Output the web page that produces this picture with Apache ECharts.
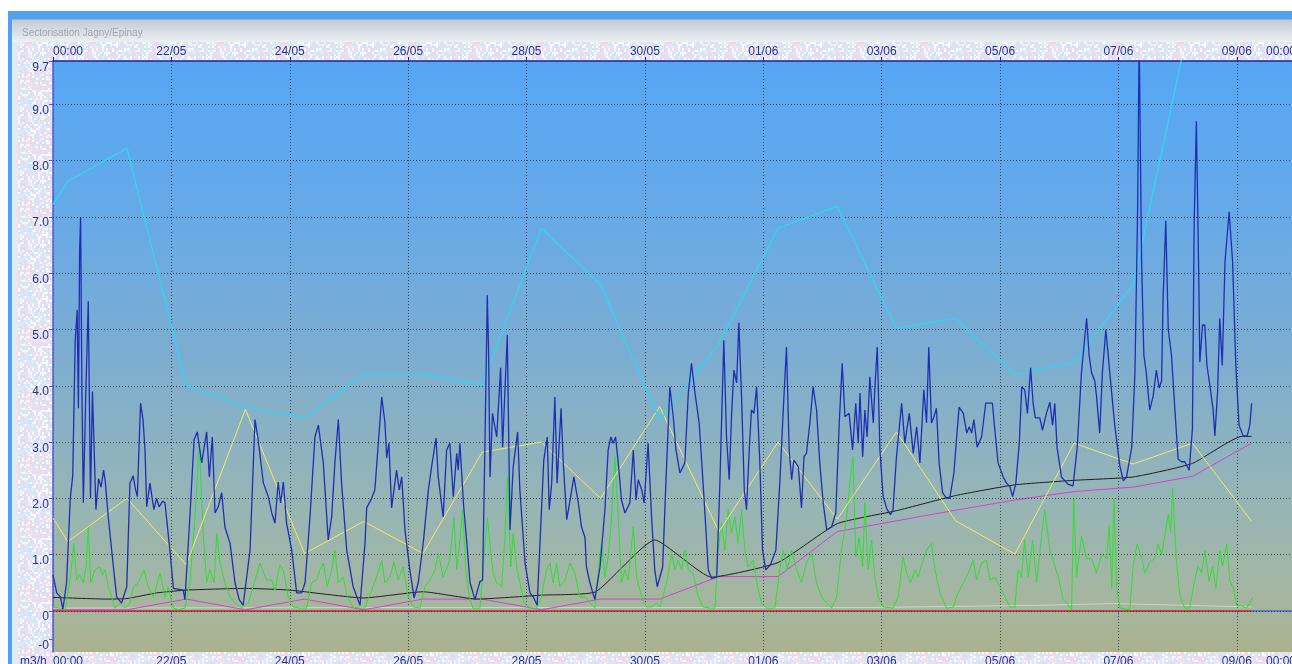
<!DOCTYPE html>
<html>
<head>
<meta charset="utf-8">
<title>Sectorisation Jagny/Epinay</title>
<script src="https://cdn.jsdelivr.net/npm/echarts@6/dist/echarts.min.js"></script>
<style>
html,body{margin:0;padding:0;background:#fff;}
#chart{width:1292px;height:664px;}
</style>
</head>
<body>
<div id="chart"></div>
<script>
// x = heures depuis le 20/05 00:00
var xTickValues = [0, 48, 96, 144, 192, 240, 288, 336, 384, 432, 480, 504];
var xTickLabels = ['00:00', '22/05', '24/05', '26/05', '28/05', '30/05', '01/06', '03/06', '05/06', '07/06', '09/06', '00:00'];
var yTickValues = [-0.5, 0, 1, 2, 3, 4, 5, 6, 7, 8, 9, 9.77];
var yTickLabels = ['-0', '0', '1.0', '2.0', '3.0', '4.0', '5.0', '6.0', '7.0', '8.0', '9.0', '9.7'];
var gridLevels = [0, 1, 2, 3, 4, 5, 6, 7, 8, 9];

// debit (bleu fonce)
var blueFlow = [
	[0,0.64],[1.5,0.32],[3,0.25],[4,0.03],[5.5,0.5],[7,2.0],[8,2.4],[9,4.8],[9.8,5.35],[10.3,3.6],
	[10.8,6.4],[11.2,7.0],[11.7,4.0],[12.3,1.92],[13.2,3.7],[14.3,5.5],[15.2,2.0],[16,3.9],[17.4,1.8],[18.5,2.35],
	[19.5,2.2],[20.5,2.5],[21.2,2.3],[22.4,1.67],[24.5,0.78],[25.8,0.25],[27.8,0.14],[29.9,0.43],[31.2,2.27],[32.5,2.4],
	[33.5,2.15],[34.2,2.03],[35.5,3.69],[36.5,3.4],[37.3,2.86],[38,1.85],[39.3,2.27],[40.9,1.8],[42,2.0],[43,1.85],
	[44.5,1.95],[45.4,1.92],[47.4,1.08],[48.8,0.4],[52.8,0.37],[53.5,0.2],[55.5,1.67],[57.2,3.04],[58.5,3.18],[60.3,2.63],
	[62.3,3.18],[63.4,2.38],[64.6,3.09],[65.7,1.74],[67,1.85],[68.4,2.1],[69.7,1.49],[71.8,1.2],[73.8,0.5],[75.5,0.2],
	[77.1,0.1],[79.9,1.08],[81.9,3.4],[83.2,3.04],[85.3,2.27],[87.3,2.03],[88.7,1.74],[90,1.56],[91.3,2.29],[92.3,1.92],
	[93.4,2.29],[94.7,1.56],[96.8,1.08],[98.8,0.32],[100.8,0.32],[102.2,0.5],[104.2,1.67],[106.2,3.09],[107.6,3.3],[109.6,2.63],
	[111.6,1.26],[113,1.67],[114.3,2.63],[115.7,3.4],[117,2.27],[119.1,1.08],[121.7,0.43],[124.5,0.1],[126.5,1.2],[127.2,1.83],
	[129.2,2.0],[130.5,2.15],[131.9,2.98],[133.3,3.8],[134.6,3.34],[135.3,2.72],[136.2,2.98],[137.3,1.83],[139.3,2.5],[140.4,2.15],
	[141.4,2.38],[142.7,1.44],[144.7,0.73],[146.4,0.23],[148.1,0.5],[150.1,1.2],[152.2,2.15],[153.5,2.56],[155.3,3.07],[156.2,2.38],
	[158.2,1.67],[159.6,2.86],[160.9,2.98],[162.3,2.03],[163.7,2.8],[164.3,2.5],[165,2.98],[166.4,1.92],[167.7,1.26],[169.1,0.5],
	[171.1,0.2],[173.1,0.52],[174.2,0.55],[175.1,2.86],[176.1,5.61],[176.6,4.64],[177.2,2.38],[178.2,3.51],[179.9,3.09],[181.5,4.32],
	[182.3,2.91],[183.2,3.87],[184.2,4.9],[185.3,1.44],[186.6,2.56],[188.4,3.18],[189.3,2.15],[191.4,0.85],[193.4,0.32],[194.7,0.25],
	[196.3,0.1],[197.7,1.44],[199,2.68],[200.4,3.09],[201.2,1.8],[202.2,2.27],[203.5,3.8],[204.4,2.27],[206,3.6],[206.9,2.63],
	[208.3,1.62],[209.9,2.03],[211.2,2.38],[213,1.92],[214.3,1.49],[215.7,1.31],[216.3,0.78],[217.7,0.5],[219.7,0.2],[221.8,0.78],
	[223.8,1.8],[225.1,2.86],[226.2,3.09],[227.1,2.98],[228.1,3.09],[229.2,2.63],[230.5,1.97],[231.9,1.74],[233.9,1.92],[235.3,2.86],
	[236.4,1.97],[237.3,2.33],[238.7,2.15],[239.7,1.92],[241.3,2.98],[242.7,1.67],[244,0.73],[245,0.43],[247.2,0.78],[248.5,2.27],
	[250.1,3.98],[251.5,3.45],[252.6,2.86],[254.2,2.45],[256.2,2.63],[257.6,3.87],[258.9,4.4],[260.3,3.87],[262,3.34],[263.6,2.27],
	[265.7,0.73],[267,0.58],[269.1,0.6],[270.4,2.27],[272,4.81],[273.1,3.09],[274.2,2.33],[275.1,3.45],[276.1,4.28],[277.2,4.05],
	[278.1,5.12],[279.2,3.8],[280.3,2.15],[281.2,1.8],[282.3,2.86],[283.2,3.57],[284.2,3.51],[285.3,3.98],[286.6,2.63],[287.7,1.08],
	[289,0.73],[290.9,0.82],[293.1,1.08],[294.7,2.27],[296.1,3.57],[297.4,4.69],[298.5,2.86],[299.5,2.33],[300.4,2.68],[302.2,2.56],
	[303.5,1.83],[304.5,2.74],[305.5,2.8],[306.9,3.34],[308.2,3.98],[309.6,3.57],[310.9,2.63],[312.3,1.92],[313.7,1.44],[315.7,1.49],
	[317.4,1.74],[318.8,3.34],[320,4.4],[321.1,3.45],[322.8,3.51],[324.2,2.86],[325.5,3.69],[326.5,2.98],[327.2,3.87],[328.3,2.74],
	[329.2,3.57],[330.1,3.09],[331.2,4.16],[332.6,3.34],[333.2,3.93],[334.2,4.69],[335.3,2.86],[336.6,2.03],[338.2,1.8],[339.6,1.71],
	[340.6,1.8],[342,2.74],[344.1,3.69],[345.4,2.98],[347.2,3.51],[348.8,2.8],[350.2,3.27],[351.5,2.63],[353.1,3.93],[354.2,3.34],
	[355.1,4.69],[356.2,3.34],[357.2,3.45],[358.2,3.6],[359.3,2.63],[360.7,2.1],[362.3,2.0],[363.6,2.0],[365.3,2.45],[366.4,3.09],
	[367.4,3.62],[369.1,3.51],[370.5,3.16],[371.5,3.27],[372.5,3.16],[373.4,3.4],[374.7,2.91],[376.5,3.09],[378.2,3.69],[379.9,3.69],
	[380.9,3.69],[381.9,3.21],[383.2,2.63],[385.3,2.38],[386.6,2.27],[388,2.21],[389.1,2.03],[390.4,2.27],[391.8,2.98],[392.8,3.98],
	[394,3.93],[395.1,3.51],[396.4,4.32],[397.4,3.69],[398.3,3.43],[400.1,3.43],[401.2,3.21],[402.8,3.51],[404.2,3.71],[405.3,3.3],
	[406.2,3.69],[407.1,2.91],[408.9,2.38],[410.3,2.31],[411.6,2.25],[413.6,2.22],[415.3,2.91],[417,4.23],[419.1,5.2],[420.1,4.55],
	[421.1,4.23],[422.4,4.09],[423.1,3.82],[424.4,3.16],[425.5,4.23],[426.9,5.0],[428.5,4.23],[430.5,3.3],[432.6,2.57],[434,2.31],
	[435.3,2.38],[437.4,2.91],[438.7,4.23],[439.8,7.18],[440.4,10.2],[440.9,10.2],[441.4,6.2],[442.3,4.55],[443.3,4.23],[444.7,3.57],
	[446.1,3.82],[447.4,4.28],[448.5,3.96],[449.5,4.09],[450.1,5.54],[451.2,6.93],[452.2,5.0],[453.5,4.55],[454.9,3.57],[456.2,2.7],
	[457.6,2.65],[458.9,2.65],[460.7,2.5],[462,3.23],[462.7,6.86],[463.6,8.7],[464.6,5.86],[465,4.42],[466.1,5.08],[467,5.08],
	[467.9,4.36],[469,4.03],[470.4,3.57],[471.1,3.11],[472.2,3.89],[473.1,5.2],[474.1,4.36],[475.2,6.2],[476.9,7.09],[478.3,6.2],
	[479.6,4.36],[480.9,3.3],[482.6,3.11],[484.2,3.11],[485.3,3.3],[486,3.69]
];

// vert
var greenFlow = [
	[0,0.07],[2.8,0.05],[4.9,0.02],[6.9,0.55],[8.5,1.2],[9.6,0.55],[10.9,0.64],[12.3,0.5],[13.4,0.78],[14.3,1.49],
	[15.3,0.5],[17,0.73],[19,0.78],[20.1,0.64],[21.1,0.73],[22.4,0.43],[23.8,0.25],[25.1,0.05],[27.2,0.14],[29.2,0.05],
	[31.2,0.14],[32.6,0.43],[34.6,0.5],[36.9,0.73],[38.6,0.43],[40.7,0.25],[43.4,0.67],[45.4,0.25],[46.7,0.43],[48.8,0.05],
	[50.8,0.02],[53.5,0.05],[55.5,0.5],[57.6,1.67],[59.3,2.98],[60.9,1.38],[62.3,0.5],[63.6,0.73],[65.3,0.5],[66.4,1.38],
	[67.7,0.85],[69.7,0.5],[71.8,0.25],[73.8,0.14],[76.5,0.05],[79.2,0.14],[81.9,0.55],[83.9,0.85],[86.6,0.55],[88.7,0.55],
	[90,0.37],[92,0.82],[93.4,0.73],[95.4,0.25],[97.4,0.07],[100.1,0.05],[102.8,0.05],[104.9,0.5],[106.9,0.55],[108.2,0.73],
	[109.6,0.85],[111.2,0.43],[113,0.73],[114.3,1.08],[115.7,0.5],[117.7,0.6],[119.3,0.25],[121.7,0.07],[124.5,0.05],[126.5,0.05],
	[129.2,0.37],[131.2,0.6],[133.3,0.9],[134.6,0.5],[136.6,0.6],[138.2,0.87],[140,0.55],[142,0.78],[144,0.25],[146.1,0.07],
	[148.8,0.05],[150.8,0.43],[152.8,0.55],[154.9,0.73],[156.2,1.03],[158.2,0.6],[160.9,0.9],[162.6,1.67],[163.7,0.73],[165,1.26],
	[166.1,1.8],[167.4,0.73],[168.8,0.25],[170.2,0.05],[173.1,0.05],[174.4,0.78],[176.1,1.67],[177.4,1.08],[178.5,0.67],[179.9,0.5],
	[181.9,0.43],[183.2,1.26],[184.3,2.38],[185.6,0.78],[186.6,1.38],[188,0.78],[189.3,0.5],[191,0.14],[193.4,0.05],[196.1,0.05],
	[198.1,0.25],[200.1,0.73],[201.5,0.85],[202.8,0.5],[204.2,0.85],[205.5,0.43],[207.6,0.55],[209.6,0.85],[211.6,0.67],[213.6,0.25],
	[215.7,0.25],[217.7,0.14],[219.7,0.05],[221.1,0.73],[222.4,1.2],[223.8,0.6],[225.1,0.96],[226.5,1.67],[227.8,2.74],[229.2,1.67],
	[230.5,0.5],[231.9,0.73],[233.2,0.55],[235.3,1.49],[236.6,0.6],[238.7,0.25],[240.7,0.07],[242.7,0.07],[244.7,0.14],[246.1,0.07],
	[248.8,0.5],[250.8,1.03],[252.2,0.73],[253.5,0.9],[254.9,0.73],[256.2,1.08],[257.6,0.73],[259.6,0.67],[261.6,0.25],[263.6,0.07],
	[266.4,0.05],[268.4,0.05],[269.7,1.08],[271.1,1.56],[272.4,1.08],[273.8,1.8],[275.1,1.38],[276.5,1.67],[277.8,1.2],[279.2,1.8],
	[280.5,1.08],[281.9,0.78],[283.9,0.9],[285.3,0.5],[287.3,0.14],[289.3,0.05],[292.7,0.05],[294.7,0.73],[296.1,1.08],[297.7,0.73],
	[299.5,1.08],[301.5,0.73],[303.5,0.5],[305.5,0.85],[307.6,1.03],[309.6,0.5],[311.6,0.25],[313.7,0.14],[315.7,0.05],[317.7,0.25],
	[319.7,1.08],[321.8,1.67],[323.1,2.27],[324.4,2.74],[325.5,0.96],[326.9,1.31],[328.3,0.78],[329.2,1.92],[330.5,0.73],[331.9,1.26],
	[333.2,0.6],[334.6,0.25],[336.6,0.07],[340.6,0.05],[342.7,0.25],[344.7,0.96],[346.1,0.67],[347.7,0.5],[349.5,0.73],[350.8,0.6],
	[352.2,0.82],[354.2,1.08],[356.2,1.2],[357.6,0.73],[359.6,0.32],[362.3,0.05],[365,0.07],[367,0.32],[369.1,0.5],[371.1,0.67],
	[373.1,0.9],[374.5,0.55],[376.5,0.85],[378.5,0.9],[379.9,0.55],[381.9,0.6],[383.9,0.43],[386,0.25],[388,0.07],[390,0.07],
	[391.3,0.73],[392.7,0.6],[394,1.26],[395.4,0.6],[397.2,1.26],[398.8,0.5],[400.8,1.31],[402.1,1.8],[404.2,1.08],[406.2,0.8],
	[408,0.53],[409.5,0.21],[411,0.14],[413,0.02],[413.9,1.99],[415,0.6],[417,1.33],[419.1,0.93],[421.1,0.93],[423.1,0.67],
	[425.2,1.0],[427.2,0.93],[428.3,1.53],[429.3,0.4],[430.2,1.99],[431.3,0.4],[432.6,0.05],[436.6,0.02],[438,0.8],[439.6,1.19],
	[441.4,0.93],[442.8,0.67],[444.7,0.87],[446.8,0.93],[448.1,1.19],[449.5,1.0],[450.8,1.33],[452.2,1.72],[453.2,1.39],[454,2.18],
	[455.4,0.93],[456.9,0.27],[458.9,0.05],[460.9,0.05],[462.6,0.48],[464.3,0.8],[465.7,0.67],[467,1.07],[468.8,0.53],[470.2,0.8],
	[471.5,0.4],[473.1,1.07],[474.2,0.8],[475.9,1.19],[477.2,0.53],[478.6,0.4],[480,0.09],[482,0.09],[484,0.05],[485.3,0.14],
	[486.5,0.25]
];

// valeurs journalieres (06:00)
var cyanFlow = [[0,7.22],[6,7.63],[30,8.22],[54,4.01],[78,3.62],[102,3.43],[126,4.21],[150,4.21],[174,4.02],[198,6.8],
	[222,5.8],[246,3.39],[270,4.75],[294,6.8],[318,7.19],[342,5.02],[366,5.2],[390,4.2],[414,4.42],[438,5.8],[462,10.7]];
var yellowFlow = [[0,1.65],[6,1.23],[30,2.0],[54,0.82],[78,3.58],[102,1.02],[126,1.59],[150,1.02],[174,2.82],[198,3.0],
	[222,2.0],[246,3.63],[270,1.41],[294,3.0],[318,1.63],[342,3.18],[366,1.6],[390,1.01],[414,2.98],[438,2.61],[462,2.98],[486,1.59]];
var blackFlow = [[0,0.24],[22,0.21],[30,0.22],[42,0.32],[54,0.37],[78,0.4],[96,0.37],[126,0.23],[150,0.34],[172,0.21],
	[198,0.28],[220,0.34],[244,1.26],[267,0.6],[294,0.86],[318,1.55],[342,1.78],[366,2.05],[390,2.24],[414,2.32],
	[438,2.38],[462,2.62],[482,3.1],[486,3.1]];
var magentaFlow = [[0,0.02],[30,0.02],[54,0.21],[78,0.02],[102,0.21],[126,0.02],[150,0.21],[174,0.21],[198,0.02],[222,0.21],
	[246,0.21],[270,0.61],[294,0.61],[318,1.41],[342,1.6],[366,1.79],[390,1.97],[414,2.12],[438,2.2],[462,2.39],[486,2.98]];
var greyFlow = [[0,0.05],[120,0.06],[240,0.06],[330,0.06],[400,0.1],[430,0.13],[486,0.07]];
var redFlow = [[0,0],[486,0]];

//texture de fond (bruit pastel, par taches de 2px)
function makeNoise(){
	var c = document.createElement('canvas');
	c.width = 64; c.height = 64;
	var g = c.getContext('2d');
	var cols = ['#f1f4fa','#d6e8f5','#f2dfec','#cfe4f4','#e6ddf1','#fafafd','#e0ecf6','#eedbea'];
	var s = 12345;
	for(var y = 0; y < 64; y += 2){
		for(var x = 0; x < 64; x += 2){
			s = (Math.imul(s, 1103515245) + 12345) >>> 0;
			g.fillStyle = cols[(s >>> 16) % cols.length];
			g.fillRect(x, y, 2, 2);
		}
	}
	return c;
}

function line(data, color, width, z, smooth){
	return {
		type: 'line',
		data: data,
		symbol: 'none',
		showSymbol: false,
		smooth: smooth || false,
		lineStyle: {color: color, width: width},
		itemStyle: {color: color},
		z: z,
		clip: true
	};
}

var labelColor = '#2c3190';
var font = 'Arial, "Liberation Sans", sans-serif';
// les libelles Y sont poses juste sous leur graduation
var yLabelShift = 0.11;
var yLabelAt = yTickValues.map(function(v){ return v - yLabelShift; });

var myChart = echarts.init(document.getElementById('chart'));

var red = line(redFlow, '#e2321e', 1.5, 2);
red.markLine = {
	silent: true,
	symbol: ['none', 'none'],
	label: {show: false},
	lineStyle: {color: 'rgba(45,50,60,0.8)', type: [1, 2], width: 1},
	data: gridLevels.map(function(v){ return {yAxis: v}; })
};

var option = {
	animation: false,
	backgroundColor: '#ffffff',
	graphic: [
		{type: 'rect', z: -20, shape: {x: 18, y: 42, width: 1274, height: 622}, style: {fill: {image: makeNoise(), repeat: 'repeat'}}},
		{type: 'rect', z: -19, shape: {x: 8, y: 11, width: 1284, height: 8}, style: {fill: '#4ea2f1'}},
		{type: 'rect', z: -19, shape: {x: 8, y: 11, width: 4, height: 653}, style: {fill: '#4ea2f1'}},
		{type: 'rect', z: -19, shape: {x: 12, y: 19, width: 6, height: 645}, style: {fill: '#e6e9ee'}},
		{type: 'rect', z: -19, shape: {x: 12, y: 19, width: 1280, height: 23}, style: {
			fill: new echarts.graphic.LinearGradient(0, 0, 0, 1, [
				{offset: 0, color: '#9aa6b2'}, {offset: 0.08, color: '#c6cdd5'}, {offset: 1, color: '#eceff3'}
			])
		}},
		{type: 'text', z: 50, left: 22, top: 28, style: {text: 'Sectorisation Jagny/Epinay', fill: '#a3a6ab', font: '10px ' + font}},
		{type: 'text', z: 50, left: 20, top: 656, style: {text: 'm3/h', fill: labelColor, font: '12px ' + font}}
	],
	grid: {
		left: 53, top: 61, right: -4, bottom: 12,
		outerBoundsMode: 'none',
		containLabel: false,
		show: true,
		borderWidth: 0,
		backgroundColor: new echarts.graphic.LinearGradient(0, 0, 0, 1, [
			{offset: 0, color: '#56a6f5'},
			{offset: 0.25, color: '#66a9e8'},
			{offset: 0.5, color: '#7dadd1'},
			{offset: 0.75, color: '#97b5b5'},
			{offset: 0.93, color: '#a6b69d'},
			{offset: 1, color: '#abb18f'}
		])
	},
	xAxis: [
		{
			type: 'value', position: 'bottom', min: 0, max: 504, interval: 48,
			axisLine: {lineStyle: {color: '#4b68de', width: 1.5}},
			axisTick: {show: true, length: 4, inside: false, customValues: xTickValues, lineStyle: {color: '#4b68de'}},
			axisLabel: {
				customValues: xTickValues, margin: 4, color: labelColor, fontSize: 12, fontFamily: font,
				showMinLabel: true, showMaxLabel: true, alignMinLabel: 'left', alignMaxLabel: 'right',
				formatter: function(v){ var i = xTickValues.indexOf(v); return i >= 0 ? xTickLabels[i] : ''; }
			},
			splitLine: {show: true, lineStyle: {color: 'rgba(45,50,60,0.8)', type: [1, 2], width: 1}}
		},
		{
			type: 'value', position: 'top', min: 0, max: 504, interval: 48,
			axisLine: {lineStyle: {color: '#1f2390', width: 1.5}},
			axisTick: {show: true, length: 4, customValues: xTickValues, lineStyle: {color: '#1f2390'}},
			axisLabel: {
				customValues: xTickValues, margin: 3, color: labelColor, fontSize: 12, fontFamily: font,
				showMinLabel: true, showMaxLabel: true, alignMinLabel: 'left', alignMaxLabel: 'right',
				formatter: function(v){ var i = xTickValues.indexOf(v); return i >= 0 ? xTickLabels[i] : ''; }
			},
			splitLine: {show: false}
		}
	],
	yAxis: {
		type: 'value', min: -0.73, max: 9.77,
		axisLine: {show: true, lineStyle: {color: '#4b5fd8', width: 1.5}},
		axisTick: {show: true, length: 4, customValues: yTickValues, lineStyle: {color: '#4b5fd8'}},
		axisLabel: {
			customValues: yLabelAt, margin: 4, color: labelColor, fontSize: 12, fontFamily: font,
			showMinLabel: true, showMaxLabel: true,
			formatter: function(v){
				for(var i = 0; i < yLabelAt.length; i++){
					if(Math.abs(yLabelAt[i] - v) < 1e-6) return yTickLabels[i];
				}
				return '';
			}
		},
		splitLine: {show: false}
	},
	series: [
		red,
		line(greyFlow, '#cfd5cc', 1, 3),
		line(magentaFlow, '#d442cf', 1, 4),
		line(blackFlow, '#1e1e1e', 1, 5, 0.15),
		line(greenFlow, '#2fe02f', 1, 6),
		line(yellowFlow, '#eeee62', 1, 7),
		line(cyanFlow, '#35d2ee', 1.5, 8),
		line(blueFlow, '#1f2fb2', 1.3, 9)
	]
};
myChart.setOption(option);
</script>
</body>
</html>
